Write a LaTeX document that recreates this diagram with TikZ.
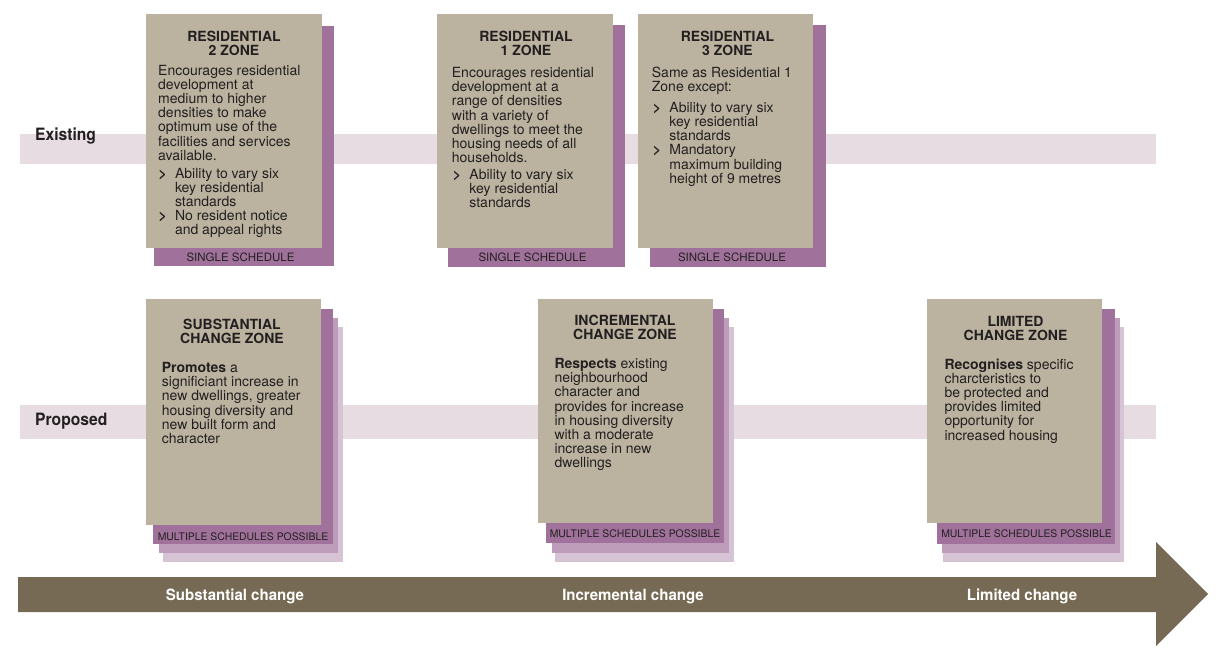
\documentclass[tikz,border=0pt]{standalone}
\usepackage{fontspec}
\setmainfont{TeX Gyre Heros}
\newfontfamily\condfont[FakeStretch=0.92]{TeX Gyre Heros}
\newfontfamily\condfontb[FakeStretch=0.97]{TeX Gyre Heros}
\definecolor{tanc}{HTML}{BBB39F}
\definecolor{pur1}{HTML}{A0729B}
\definecolor{pur2}{HTML}{BD9DB9}
\definecolor{pur3}{HTML}{D6C4D4}
\definecolor{bandc}{HTML}{E6DCE1}
\definecolor{arrowc}{HTML}{776A54}
\definecolor{txt}{HTML}{231F20}
\newcommand\bodyf{\fontsize{14}{13.4}\selectfont}
\newcommand\titlef{\fontsize{14}{12.5}\selectfont\bfseries}
\newcommand\schedf{\fontsize{11.5}{12}\selectfont}
\newcommand\mschedf{\fontsize{10.4}{12}\selectfont}
\newcommand\sidef{\condfont\fontsize{17}{18}\selectfont\bfseries}
\newcommand\arrf{\condfontb\fontsize{15.5}{16}\selectfont\bfseries}
\newcommand\lft[1]{\begin{tabular}[t]{@{}l@{}}#1\end{tabular}}
\newcommand\ctr[1]{\begin{tabular}[t]{@{}c@{}}#1\end{tabular}}
\newcommand\bl[1]{\begin{tabular}[t]{@{}l@{}l@{}}#1\end{tabular}}
\newcommand\gt{\makebox[16.5pt][l]{\textbf{>}}}
\tikzset{
  body/.style={inner sep=0pt, anchor=base west, font=\bodyf, text=txt},
  ttl/.style={inner sep=0pt, anchor=base, font=\titlef, text=txt},
  sched/.style={inner sep=0pt, anchor=base, font=\schedf, text=txt},
  msched/.style={inner sep=0pt, anchor=base, font=\mschedf, text=txt},
  side/.style={inner sep=0pt, anchor=base west, font=\sidef, text=txt},
  arrlbl/.style={inner sep=0pt, anchor=base, font=\arrf, text=white},
}
\begin{document}
\begin{tikzpicture}[x=1pt,y=-1pt]
\useasboundingbox (0,0) rectangle (1222,653);
% bands
\fill[bandc] (20,134) rectangle (1156,164);
\fill[bandc] (20,405) rectangle (1156,439);
\node[side] (ex) at (35,140) {Existing};
\node[side] (pr) at (35,425.5) {Proposed};
% top cards
\fill[pur1] (154,26) rectangle (334,266);
\fill[tanc] (146,14) rectangle (322,248);
\fill[pur1] (448,25) rectangle (625,267);
\fill[tanc] (437,14) rectangle (613,248);
\fill[pur1] (650,25) rectangle (826,267);
\fill[tanc] (638,14) rectangle (813,248);
% card 1
\node[ttl] (t1) at (234,41.5) {\ctr{RESIDENTIAL\\2 ZONE}};
\node[body] (b1) at (158,75) {\lft{Encourages residential\\development at\\medium to higher\\densities to make\\optimum use of the\\facilities and services\\available.}};
\node[body] (i1) at (158.3,178) {\bl{\gt&Ability to vary six\\&key residential\\&standards\\\gt&No resident notice\\&and appeal rights}};
\node[sched] (s1) at (240.5,261) {SINGLE SCHEDULE};
% card 2
\node[ttl] (t2) at (526,41) {\ctr{RESIDENTIAL\\1 ZONE}};
\node[body] (b2) at (451.7,77.3) {\lft{Encourages residential\\development at a\\range of densities\\with a variety of\\dwellings to meet the\\housing needs of all\\households.}};
\node[body] (i2) at (452.7,179.3) {\bl{\gt&Ability to vary six\\&key residential\\&standards}};
\node[sched] (s2) at (532.5,261) {SINGLE SCHEDULE};
% card 3
\node[ttl] (t3) at (727.5,41) {\ctr{RESIDENTIAL\\3 ZONE}};
\node[body] (b3) at (651.7,77.3) {\lft{Same as Residential 1\\Zone except:}};
\node[body] (i3) at (652.7,112.3) {\bl{\gt&Ability to vary six\\&key residential\\&standards\\\gt&Mandatory\\&maximum building\\&height of 9 metres}};
\node[sched] (s3) at (732,261) {SINGLE SCHEDULE};
% bottom cards
\fill[pur3] (163.3,326.7) rectangle (343.3,561.7);
\fill[pur2] (159,318.3) rectangle (338.3,553.3);
\fill[pur1] (153.3,309) rectangle (333.3,544.3);
\fill[tanc] (146,299) rectangle (321,525);
\fill[pur3] (555,326.7) rectangle (734,561.7);
\fill[pur2] (551.7,318.3) rectangle (729.3,553.3);
\fill[pur1] (546,309) rectangle (724.3,543.3);
\fill[tanc] (538.3,299) rectangle (712.7,522.7);
\fill[pur3] (943.3,326.7) rectangle (1124.3,561.7);
\fill[pur2] (941.7,318.3) rectangle (1120,553.3);
\fill[pur1] (936.7,309) rectangle (1115,544.3);
\fill[tanc] (927.3,299) rectangle (1101.7,523.3);
% card 4
\node[ttl] (t4) at (232,329) {\ctr{SUBSTANTIAL\\CHANGE ZONE}};
\node[body] (b4) at (161.7,372.3) {\lft{\textbf{Promotes} a\\significiant increase in\\new dwellings, greater\\housing diversity and\\new built form and\\character}};
\node[msched] (s4) at (243,540) {MULTIPLE SCHEDULES POSSIBLE};
% card 5
\node[ttl] (t5) at (625,325.5) {\ctr{INCREMENTAL\\CHANGE ZONE}};
\node[body] (b5) at (554.3,368.3) {\lft{\textbf{Respects} existing\\neighbourhood\\character and\\provides for increase\\in housing diversity\\with a moderate\\increase in new\\dwellings}};
\node[msched] (s5) at (635,537.7) {MULTIPLE SCHEDULES POSSIBLE};
% card 6
\node[ttl] (t6) at (1015.5,326) {\ctr{LIMITED\\CHANGE ZONE}};
\node[body] (b6) at (944.3,369) {\lft{\textbf{Recognises} specific\\charcteristics to\\be protected and\\provides limited\\opportunity for\\increased housing}};
\node[msched] (s6) at (1026.5,537.7) {MULTIPLE SCHEDULES POSSIBLE};
% arrow
\fill[arrowc] (18,577) -- (1156,577) -- (1156,542) -- (1208,594) -- (1156,646) -- (1156,612) -- (18,612) -- cycle;
\node[arrlbl] (a1) at (235,600) {Substantial change};
\node[arrlbl] (a2) at (633,600) {Incremental change};
\node[arrlbl] (a3) at (1022,600) {Limited change};
\end{tikzpicture}
\end{document}
